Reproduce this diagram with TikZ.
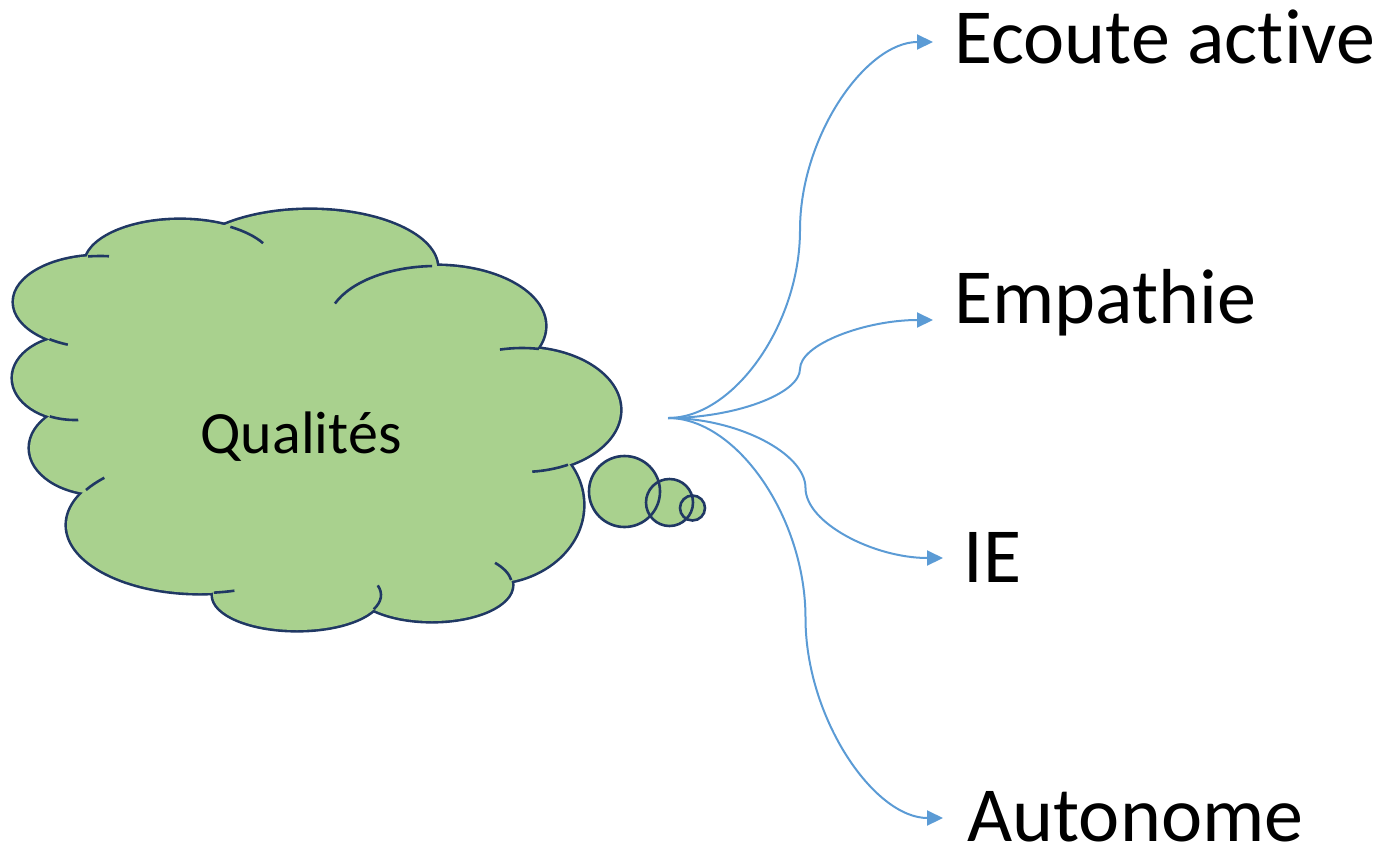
\documentclass[tikz,border=0pt]{standalone}
\usepackage{fontspec}
\setmainfont{Carlito}[Ligatures=NoCommon]
\usetikzlibrary{arrows.meta}
\definecolor{cloudfill}{HTML}{A9D18E}
\definecolor{cloudline}{HTML}{203864}
\definecolor{linkblue}{HTML}{5B9BD5}

\begin{document}
\begin{tikzpicture}[x=0.5pt, y=-0.5pt,
    outline/.style={draw=cloudline, line width=2.6pt},
    puff/.style={fill=cloudfill},
    tick/.style={draw=cloudline, line width=1.3pt},
    link/.style={draw=linkblue, line width=1pt, -{Triangle[length=8pt, width=7.5pt]}},
    itemtext/.style={anchor=base west, inner sep=0pt, font=\fontsize{39}{47}\selectfont}]
  \useasboundingbox (0,0) rectangle (1384,851);

  % cloud: thick outlines first, then the fills hide the inner halves
  \foreach \cx/\cy/\rx/\ry in {100/302/86/46, 180/265/95/45, 310/268/127/58, 436/326/109/60,
      522/410/98/62, 490/505/93/78, 432/585/80/36, 297/595/84/35, 200/525/133/68,
      100/448/70/46, 75/378/62/42}
    \draw[outline] (\cx,\cy) ellipse [x radius=\rx, y radius=\ry];
  \foreach \cx/\cy/\rx/\ry in {100/302/86/46, 180/265/95/45, 310/268/127/58, 436/326/109/60,
      522/410/98/62, 490/505/93/78, 432/585/80/36, 297/595/84/35, 200/525/133/68,
      100/448/70/46, 75/378/62/42}
    \fill[puff] (\cx,\cy) ellipse [x radius=\rx, y radius=\ry];
  \fill[puff] (94,266) -- (226,232) -- (432,274) -- (526,358) -- (558,462) -- (502,568)
    -- (370,600) -- (220,586) -- (90,485) -- (58,412) -- (54,344) -- cycle;

  % small inner arcs of the cloud
  \foreach \cx/\cy/\rx/\ry/\a/\b in {100/302/86/46/262/276, 100/302/86/46/112/126,
      180/265/95/45/302/331, 436/326/109/60/202/268, 522/410/98/62/257/280,
      522/410/98/62/62/84, 432/585/80/36/322/352, 297/595/84/35/344/384,
      200/525/133/68/211/224, 200/525/133/68/75/84, 75/378/62/42/87/114}
    \draw[tick] (\cx,\cy) ++({\rx*cos(\a)},{\ry*sin(\a)}) arc[start angle=\a, end angle=\b, x radius=\rx, y radius=\ry];

  \node[anchor=base, inner sep=0pt, font=\fontsize{30}{36}\selectfont] (qualites) at (301,453) {Qualités};

  % thought bubbles
  \foreach \bx/\by/\br in {624.5/491.5/35.5, 669.5/502.5/23.5, 692.5/508/12.5}
    \fill[puff] (\bx,\by) circle [radius=\br];
  \foreach \bx/\by/\br in {624.5/491.5/35.5, 669.5/502.5/23.5, 692.5/508/12.5}
    \draw[tick] (\bx,\by) circle [radius=\br];

  % labels
  \node[itemtext] (ecoute) at (954,63) {Ecoute active};
  \node[itemtext] (empathie) at (954,323) {Empathie};
  \node[itemtext] (ie) at (963,582) {IE};
  \node[itemtext] (autonome) at (967,841) {Autonome};

  \coordinate (hub) at (668,418);
  \coordinate (toEcoute) at (933,42);
  \coordinate (toEmpathie) at (933,320);
  \coordinate (toIE) at (943,558);
  \coordinate (toAutonome) at (943,818);

  \draw[link] (hub) .. controls (734,418) and (800,324) .. (800,230)
    .. controls (800,136) and (866,42) .. (toEcoute);
  \draw[link] (hub) .. controls (734,418) and (800,394) .. (800,369)
    .. controls (800,344) and (866,320) .. (toEmpathie);
  \draw[link] (hub) .. controls (737,418) and (805.5,453) .. (805.5,488)
    .. controls (805.5,523) and (874,558) .. (toIE);
  \draw[link] (hub) .. controls (737,418) and (805.5,518) .. (805.5,618)
    .. controls (805.5,718) and (874,818) .. (toAutonome);
\end{tikzpicture}
\end{document}
